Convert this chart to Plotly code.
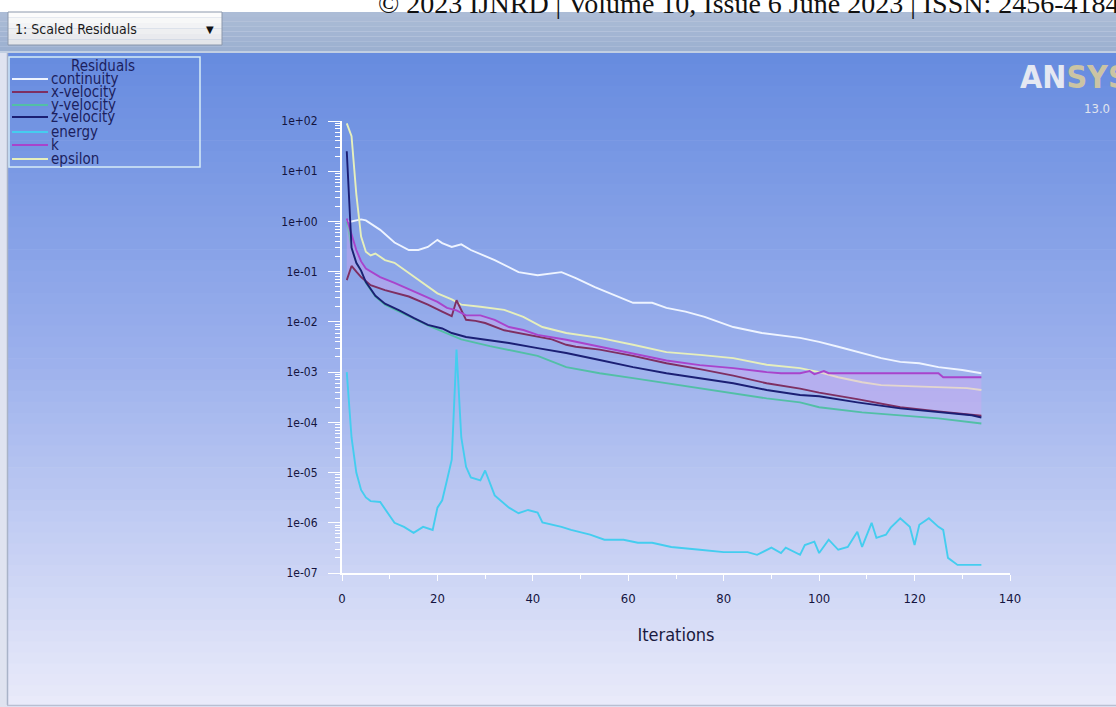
import plotly.graph_objects as go

# ---------------- data ----------------
series_names = ["continuity", "x-velocity", "y-velocity", "z-velocity", "energy", "k", "epsilon"]

continuity_it = [1, 2, 3, 4, 5, 8, 11, 14, 16, 18, 20, 21, 23, 25, 27, 32, 37, 41, 46, 49, 53, 56, 61, 65, 68, 72, 76, 82, 88, 96, 100, 104, 109, 113, 117, 121, 125, 130, 134]
continuity_val = [1.0, 1.0, 1.05, 1.1, 1.05, 0.68, 0.38, 0.27, 0.27, 0.31, 0.43, 0.37, 0.31, 0.35, 0.27, 0.17, 0.098, 0.085, 0.098, 0.074, 0.049, 0.038, 0.024, 0.024, 0.019, 0.016, 0.0126, 0.0079, 0.006, 0.0048, 0.004, 0.0032, 0.0024, 0.0019, 0.0016, 0.0015, 0.00126, 0.0011, 0.00095]

xvel_it = [1, 2, 3, 4, 6, 9, 14, 18, 21, 23, 24, 25, 26, 28, 30, 34, 39, 44, 47, 49, 54, 61, 68, 75, 82, 89, 96, 100, 108, 117, 125, 134]
xvel_val = [0.068, 0.13, 0.1, 0.078, 0.054, 0.043, 0.032, 0.022, 0.016, 0.013, 0.027, 0.017, 0.011, 0.0105, 0.0095, 0.0068, 0.0055, 0.0045, 0.0035, 0.0032, 0.0028, 0.0021, 0.0015, 0.00115, 0.00085, 0.0006, 0.00047, 0.00039, 0.00029, 0.0002, 0.000165, 0.000135]

yvel_it = [1, 2, 3, 4, 5, 7, 9, 12, 15, 18, 21, 25, 31, 36, 41, 47, 54, 61, 68, 75, 82, 89, 96, 100, 109, 117, 125, 134]
yvel_val = [1.0, 0.3, 0.15, 0.1, 0.06, 0.032, 0.022, 0.016, 0.0115, 0.0085, 0.0065, 0.0045, 0.0033, 0.0026, 0.0021, 0.00126, 0.00095, 0.00076, 0.0006, 0.00048, 0.00038, 0.0003, 0.00025, 0.0002, 0.000158, 0.000138, 0.00012, 0.000095]

zvel_it = [1, 2, 3, 4, 5, 7, 9, 12, 15, 18, 21, 23, 26, 30, 35, 41, 47, 54, 61, 68, 75, 82, 89, 96, 100, 108, 117, 125, 132, 134]
zvel_val = [25, 0.3, 0.15, 0.105, 0.062, 0.033, 0.023, 0.017, 0.012, 0.0087, 0.0074, 0.006, 0.005, 0.0044, 0.0038, 0.003, 0.0024, 0.00174, 0.00126, 0.00095, 0.00076, 0.0006, 0.00044, 0.00035, 0.00033, 0.00025, 0.00019, 0.000158, 0.000138, 0.000125]

energy_it = [1, 2, 3, 4, 5, 6, 8, 9, 11, 13, 15, 17, 19, 20, 21, 22, 23, 24, 25, 26, 27, 29, 30, 32, 35, 37, 39, 41, 42, 46, 48, 52, 55, 59, 62, 65, 69, 75, 80, 85, 87, 90, 92, 93, 96, 97, 99, 100, 102, 104, 106, 108, 109, 111, 112, 114, 115, 117, 119, 120, 121, 123, 125, 126, 127, 129, 134]
energy_val = [1e-3, 5e-5, 1e-5, 4.5e-6, 3.2e-6, 2.7e-6, 2.6e-6, 1.9e-6, 1e-6, 8.3e-7, 6.3e-7, 8.3e-7, 7.2e-7, 2e-6, 2.8e-6, 7e-6, 1.8e-5, 2.8e-3, 5e-5, 1.3e-5, 8e-6, 7e-6, 1.1e-5, 3.5e-6, 2e-6, 1.55e-6, 1.8e-6, 1.6e-6, 1.02e-6, 8.3e-7, 7.2e-7, 5.8e-7, 4.6e-7, 4.6e-7, 4e-7, 4e-7, 3.3e-7, 2.9e-7, 2.6e-7, 2.6e-7, 2.3e-7, 3.2e-7, 2.5e-7, 3.2e-7, 2.3e-7, 3.6e-7, 4.2e-7, 2.5e-7, 4.6e-7, 2.9e-7, 3.3e-7, 6.6e-7, 3.3e-7, 1e-6, 5e-7, 5.8e-7, 8e-7, 1.23e-6, 8.3e-7, 3.6e-7, 9.1e-7, 1.23e-6, 8.3e-7, 7.2e-7, 2e-7, 1.45e-7, 1.45e-7]

k_it = [1, 2, 3, 4, 5, 8, 11, 16, 20, 22, 24, 26, 29, 32, 35, 38, 41, 47, 54, 61, 68, 75, 82, 89, 92, 96, 98, 99, 101, 102, 125, 126, 134]
k_val = [1.15, 0.55, 0.27, 0.16, 0.115, 0.078, 0.06, 0.037, 0.025, 0.019, 0.017, 0.0135, 0.0135, 0.011, 0.0079, 0.0069, 0.0055, 0.0044, 0.0032, 0.0024, 0.0017, 0.00138, 0.0012, 0.001, 0.00095, 0.00095, 0.00105, 0.00091, 0.00105, 0.00095, 0.00095, 0.00079, 0.00079]

epsilon_it = [1, 2, 3, 4, 5, 6, 7, 9, 11, 14, 17, 20, 23, 25, 29, 34, 38, 42, 47, 54, 61, 68, 75, 82, 89, 96, 100, 104, 109, 113, 120, 125, 131, 134]
epsilon_val = [90, 50, 3.5, 0.5, 0.25, 0.21, 0.23, 0.17, 0.15, 0.093, 0.059, 0.037, 0.028, 0.022, 0.02, 0.0174, 0.0126, 0.0079, 0.006, 0.0048, 0.0035, 0.0025, 0.0022, 0.0019, 0.0014, 0.0012, 0.001, 0.00079, 0.00063, 0.00055, 0.00052, 0.0005, 0.00048, 0.00044]

y_tick_vals = [1e-7, 1e-6, 1e-5, 1e-4, 1e-3, 1e-2, 1e-1, 1e0, 1e1, 1e2]
y_tick_text = ["1e-07", "1e-06", "1e-05", "1e-04", "1e-03", "1e-02", "1e-01", "1e+00", "1e+01", "1e+02"]
x_tick_vals = [0, 20, 40, 60, 80, 100, 120, 140]

colors = {
    "continuity": "#eef4ff",
    "x-velocity": "#7e2f62",
    "y-velocity": "#52bfa6",
    "z-velocity": "#1b1f74",
    "energy": "#44cdef",
    "k": "#a844cc",
    "epsilon": "#e6efbc",
}

# ---------------- geometry ----------------
W, H = 1116, 707
L, R, T, B = 342, 1010, 121, 573
PW, PH = R - L, B - T


def px(X):
    return (X - L) / PW


def py(Y):
    return (B - Y) / PH


NARROW = "Liberation Sans Narrow, DejaVu Sans Condensed, Arial Narrow, sans-serif"

fig = go.Figure()

data = {
    "continuity": (continuity_it, continuity_val),
    "x-velocity": (xvel_it, xvel_val),
    "y-velocity": (yvel_it, yvel_val),
    "z-velocity": (zvel_it, zvel_val),
    "energy": (energy_it, energy_val),
    "k": (k_it, k_val),
    "epsilon": (epsilon_it, epsilon_val),
}

draw_order = ["continuity", "epsilon", "y-velocity", "x-velocity", "k", "z-velocity", "energy"]
for name in draw_order:
    xs, ys = data[name]
    kw = {}
    if name == "k":
        kw = dict(fill="tonexty", fillcolor="rgba(222,165,242,0.33)")
    fig.add_trace(go.Scatter(
        x=xs, y=ys, mode="lines", name=name,
        line=dict(color=colors[name], width=1.9),
        showlegend=False, **kw))

shapes = []
shapes.append(dict(type="rect", xref="paper", yref="paper", x0=px(0), x1=px(W), y0=py(0), y1=py(12),
                   fillcolor="white", line=dict(width=0), layer="below"))


def lerp(c1, c2, t):
    return tuple(round(a + (b - a) * t) for a, b in zip(c1, c2))


# top toolbar
bar_top, bar_bot = 12, 51
nb = 8
for i in range(nb):
    y0 = bar_top + (bar_bot - bar_top) * i / nb
    y1 = bar_top + (bar_bot - bar_top) * (i + 1) / nb
    c = lerp((172, 188, 214), (156, 176, 208), i / (nb - 1))
    shapes.append(dict(type="rect", xref="paper", yref="paper", x0=px(0), x1=px(W), y0=py(y0), y1=py(y1),
                       fillcolor="rgb(%d,%d,%d)" % c, line=dict(width=0), layer="below"))
shapes.append(dict(type="rect", xref="paper", yref="paper", x0=px(0), x1=px(W), y0=py(51), y1=py(53),
                   fillcolor="#c2cfe2", line=dict(width=0), layer="below"))

# main panel gradient
stops = [(53, (102, 139, 223)), (350, (154, 175, 236)), (707, (234, 235, 250))]
g_top, g_bot = 53, 707
nbands = 60
for i in range(nbands):
    y0 = g_top + (g_bot - g_top) * i / nbands
    y1 = g_top + (g_bot - g_top) * (i + 1) / nbands + 0.6
    ym = (y0 + y1) / 2
    if ym <= stops[1][0]:
        c = lerp(stops[0][1], stops[1][1], (ym - stops[0][0]) / (stops[1][0] - stops[0][0]))
    else:
        c = lerp(stops[1][1], stops[2][1], (ym - stops[1][0]) / (stops[2][0] - stops[1][0]))
    shapes.append(dict(type="rect", xref="paper", yref="paper", x0=px(7), x1=px(W), y0=py(y0), y1=py(min(y1, H)),
                       fillcolor="rgb(%d,%d,%d)" % c, line=dict(width=0), layer="below"))
shapes.append(dict(type="rect", xref="paper", yref="paper", x0=px(0), x1=px(7), y0=py(53), y1=py(H),
                   fillcolor="#dfe3f0", line=dict(width=0), layer="below"))
shapes.append(dict(type="line", xref="paper", yref="paper", x0=px(7.5), x1=px(7.5), y0=py(53), y1=py(705),
                   line=dict(color="#a9b3c8", width=1.5), layer="below"))
shapes.append(dict(type="line", xref="paper", yref="paper", x0=px(7), x1=px(W), y0=py(705.5), y1=py(705.5),
                   line=dict(color="#b8bfd2", width=1.5), layer="below"))

# dropdown box
nd = 6
for i in range(nd):
    y0 = 12 + 33 * i / nd
    y1 = 12 + 33 * (i + 1) / nd
    c = lerp((252, 252, 252), (228, 230, 234), i / (nd - 1))
    shapes.append(dict(type="rect", xref="paper", yref="paper", x0=px(8), x1=px(222), y0=py(y0), y1=py(y1),
                       fillcolor="rgb(%d,%d,%d)" % c, line=dict(width=0), layer="below"))
shapes.append(dict(type="rect", xref="paper", yref="paper", x0=px(8), x1=px(222), y0=py(12), y1=py(45),
                   fillcolor="rgba(0,0,0,0)", line=dict(color="#8c98ac", width=1), layer="below"))

# legend box
shapes.append(dict(type="rect", xref="paper", yref="paper", x0=px(9), x1=px(200), y0=py(57), y1=py(167),
                   fillcolor="rgba(0,0,0,0)", line=dict(color="#d6ecf6", width=1.5), layer="above"))

legend_rows_y = [79, 92, 105, 117, 132, 145, 159]
for name, yy in zip(series_names, legend_rows_y):
    shapes.append(dict(type="line", xref="paper", yref="paper", x0=px(12), x1=px(48), y0=py(yy), y1=py(yy),
                       line=dict(color=colors[name], width=2.2), layer="above"))

annotations = []
annotations.append(dict(xref="paper", yref="paper", x=px(103), y=py(66), text="Residuals", showarrow=False,
                        xanchor="center", yanchor="middle", font=dict(family=NARROW, size=15, color="#1c1f5e")))
for name, yy in zip(series_names, legend_rows_y):
    annotations.append(dict(xref="paper", yref="paper", x=px(49), y=py(yy), text=name, showarrow=False,
                            xanchor="left", yanchor="middle", font=dict(family=NARROW, size=15, color="#1c1f5e")))

annotations.append(dict(xref="paper", yref="paper", x=px(13), y=py(29), text="1: Scaled Residuals", showarrow=False,
                        xanchor="left", yanchor="middle", font=dict(family=NARROW, size=14, color="#1a1a1a")))
annotations.append(dict(xref="paper", yref="paper", x=px(210), y=py(30), text="▼", showarrow=False,
                        xanchor="center", yanchor="middle", font=dict(family="DejaVu Sans", size=10, color="#111111")))

# ANSYS logo
annotations.append(dict(xref="paper", yref="paper", x=px(1018), y=py(56), showarrow=False,
                        text="<b>AN<span style='color:#cbc4a4'>SYS</span></b>", xanchor="left", yanchor="top",
                        font=dict(family=NARROW, size=32, color="#e4e8f2")))
annotations.append(dict(xref="paper", yref="paper", x=px(1082), y=py(109), showarrow=False,
                        text="13.0", xanchor="left", yanchor="middle",
                        font=dict(family=NARROW, size=13, color="#e0e4ee")))

# journal footer text, cut at page top
annotations.append(dict(xref="paper", yref="paper", x=px(376), y=py(21), showarrow=False,
                        text="© 2023 IJNRD | Volume 10, Issue 6 June 2023 | ISSN: 2456-4184",
                        xanchor="left", yanchor="bottom",
                        font=dict(family="Liberation Serif, DejaVu Serif, serif", size=28, color="#111111")))

fig.update_layout(
    width=W, height=H,
    margin=dict(l=L, r=W - R, t=T, b=H - B, pad=0),
    paper_bgcolor="#dfe3f0",
    plot_bgcolor="rgba(0,0,0,0)",
    shapes=shapes,
    annotations=annotations,
    showlegend=False,
    xaxis=dict(
        range=[0, 140], tickvals=x_tick_vals, ticks="outside", ticklen=6, tickwidth=1, tickcolor="white",
        showline=True, linecolor="white", linewidth=2, showgrid=False, zeroline=False,
        tickfont=dict(family=NARROW, size=13, color="#141440"), ticklabelstandoff=6,
        minor=dict(dtick=10, ticks="outside", ticklen=4, tickcolor="white", showgrid=False),
        title=dict(text="Iterations", font=dict(family=NARROW, size=18, color="#1a1a40"), standoff=24),
    ),
    yaxis=dict(
        type="log", range=[-7, 2], tickvals=y_tick_vals, ticktext=y_tick_text, ticks="outside", ticklen=12,
        tickwidth=1, tickcolor="white", showline=True, linecolor="white", linewidth=2, showgrid=False,
        zeroline=False, tickfont=dict(family=NARROW, size=12, color="#141440"), ticklabelstandoff=8,
        minor=dict(dtick="D1", ticks="outside", ticklen=5, tickcolor="white", showgrid=False),
    ),
)

fig.write_html("out.html", config={"displayModeBar": False},
               post_script="document.body.style.margin='0';document.body.style.overflow='hidden';")
